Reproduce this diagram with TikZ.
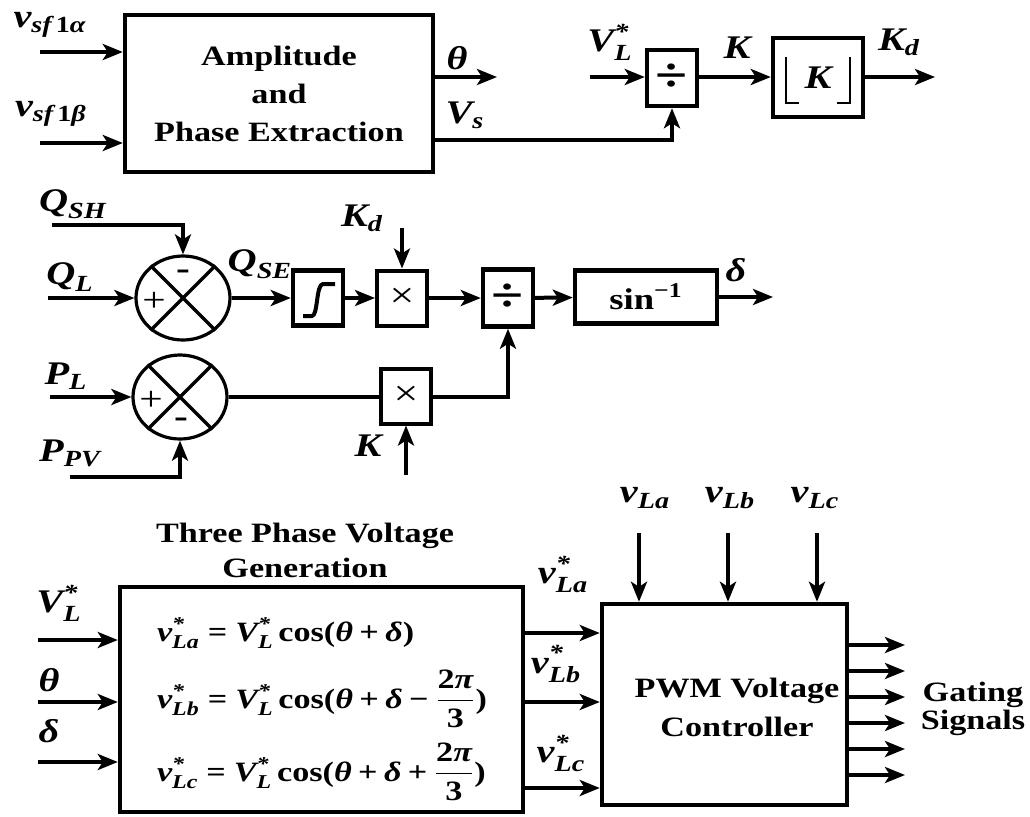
\documentclass[tikz,border=0pt]{standalone}
\usepackage{amsmath}
\usepackage{fontspec}
\setmainfont{Liberation Serif}[FakeStretch=1.22]
\usetikzlibrary{arrows.meta,calc,positioning,shapes.geometric}
\newcommand{\bi}[1]{\text{\bfseries\itshape #1}}
\newcommand{\bu}[1]{\text{\bfseries #1}}

\begin{document}
\begin{tikzpicture}[x=0.5pt,y=-0.5pt,every node/.style={font=\fontsize{14}{19}\selectfont\bfseries,text=black},lbl/.style={font=\fontsize{16.5}{18}\selectfont\bfseries,inner sep=1pt},blk/.style={draw,line width=2.2pt,inner sep=0pt},opbox/.style={draw,line width=2pt,inner sep=0pt,minimum width=25pt,minimum height=27.5pt},sumj/.style={draw,ellipse,line width=1.6pt,inner sep=0pt,minimum width=47pt,minimum height=42pt},arr/.style={-{Stealth[length=10pt,width=8pt,inset=2.5pt]},line width=2pt},wire/.style={line width=2pt},sgn/.style={font=\fontsize{17}{17}\selectfont\mdseries,inner sep=0pt}]
\fill[white] (0,0) rectangle (1030,816);
\useasboundingbox (0,0) rectangle (1030,816);

% amplitude and phase, gain K
\node[blk,minimum width=154pt,minimum height=78.5pt,align=center] (ape) at (279,93.5) {Amplitude\\and\\Phase Extraction};
\coordinate (ina) at (40,52); \coordinate (inb) at (40,143); \coordinate (tho) at (497,77); \coordinate (vlin) at (590,77); \coordinate (kdo) at (935,77);
\draw[arr] (ina) -- (ina -| ape.west); \draw[arr] (inb) -- (inb -| ape.west); \draw[arr] (tho -| ape.east) -- (tho);
\node[lbl] (lina) at (50,25) {$\bi{v}_{\bi{sf}\,\bu{1}\bi{α}}$}; \node[lbl] (linb) at (51,114) {$\bi{v}_{\bi{sf}\,\bu{1}\bi{β}}$};
\node[lbl] (lth) at (457,58) {$\bi{θ}$}; \node[lbl] (lvs) at (465,115) {$\bi{V}_{\bi{s}}$};
\node[opbox,line width=2.2pt,minimum height=28pt] (div1) at (672,78) {\fontsize{24}{24}\selectfont ÷};
\node[blk,minimum width=45pt,minimum height=39.5pt] (flr) at (818,77.5) {\fontsize{16.5}{18}\selectfont$\bi{K}$};
\draw[line width=1.2pt] (786,57) -- (786,103) -- (799,103); \draw[line width=1.2pt] (850,57) -- (850,103) -- (837,103);
\draw[arr] (vlin) -- (vlin -| div1.west); \draw[arr] (ape.east |- 0,140) -| (div1.south);
\draw[arr] (div1.east |- vlin) -- (flr.west |- vlin); \draw[arr] (flr.east |- kdo) -- (kdo);
\node[lbl] (lvl) at (610,42) {$\bi{V}^{\bi{*}}_{\bi{L}}$}; \node[lbl] (lk) at (737,48) {$\bi{K}$}; \node[lbl] (lkd) at (899,42) {$\bi{K}_{\bi{d}}$};

% reactive and active power path
\node[sumj] (sum1) at (183,298) {}; \node[sumj] (sum2) at (180,397) {};
\draw[line width=1.6pt] (sum1.135) -- (sum1.-45) (sum1.45) -- (sum1.-135); \draw[line width=1.6pt] (sum2.135) -- (sum2.-45) (sum2.45) -- (sum2.-135);
\node[sgn] at (154,302) {+}; \node[sgn,font=\fontsize{17}{17}\selectfont\bfseries] at (183,275) {-};
\node[sgn] at (151,401) {+}; \node[sgn,font=\fontsize{17}{17}\selectfont\bfseries] at (181,423) {-};
\coordinate (qsh) at (52,225); \coordinate (ql) at (48,298); \coordinate (pl) at (50,397); \coordinate (ppv) at (70,477);
\draw[arr] (qsh) -| (sum1.north); \draw[arr] (ql) -- (sum1.west); \draw[arr] (pl) -- (sum2.west); \draw[arr] (ppv) -| (sum2.south);
\node[lbl] (lqsh) at (73,204) {$\bi{Q}_{\bi{SH}}$}; \node[lbl] (lql) at (70,277) {$\bi{Q}_{\bi{L}}$}; \node[lbl] (lqse) at (260,264) {$\bi{Q}_{\bi{SE}}$};
\node[lbl] (lpl) at (66,376) {$\bi{P}_{\bi{L}}$}; \node[lbl] (lppv) at (70,453) {$\bi{P}_{\bi{PV}}$};
\node[opbox,line width=2.2pt] (sat) at (318,298) {};
\draw[line width=2pt,line join=round] (303,316) -- (312,316) .. controls (318,316) and (316,284) .. (323,284) -- (335,284);
\node[opbox] (mul1) at (402,298) {\fontsize{18}{18}\selectfont\mdseries ×}; \node[opbox] (mul2) at (406,396) {\fontsize{18}{18}\selectfont\mdseries ×};
\node[opbox,line width=2.2pt,minimum height=28.5pt] (div2) at (508,298) {\fontsize{24}{24}\selectfont ÷};
\node[blk,minimum width=71pt,minimum height=26.5pt] (sinv) at (646,297) {\fontsize{15}{18}\selectfont$\bu{sin}^{\bu{−1}}$};
\coordinate (kdin) at (402,228); \coordinate (kin) at (406,475); \coordinate (dlt) at (773,297);
\draw[arr] (sum1.east) -- (sat.west); \draw[arr] (sat) -- (mul1); \draw[arr] (mul1) -- (div2); \draw[arr] (div2) -- (sinv); \draw[arr] (sinv.east) -- (dlt);
\draw[arr] (kdin) -- (mul1.north); \draw[arr] (kin) -- (mul2.south);
\draw[wire] (sum2.east) -- (sum2.east -| mul2.west); \draw[arr] (mul2.east |- sum2.east) -| (div2.south);
\node[lbl] (lkd2) at (362,218) {$\bi{K}_{\bi{d}}$}; \node[lbl] (lk2) at (368,446) {$\bi{K}$}; \node[lbl] (ldl) at (736,270) {$\bi{δ}$};

% three phase voltage generation, PWM
\node[align=center,font=\fontsize{14}{17.5}\selectfont\bfseries] (tpgt) at (305,550) {Three Phase Voltage\\Generation};
\node[blk,minimum width=201.5pt,minimum height=112.5pt] (tpg) at (321.5,699.5) {};
\node[anchor=west] (eqa) at (150,633) {$\bi{v}^{\bi{*}}_{\bi{La}}\mathrel{\bu{=}}\bi{V}^{\bi{*}}_{\bi{L}}\,\bu{cos(}\bi{θ}\mathbin{\bu{+}}\bi{δ}\bu{)}$};
\node[anchor=west] (eqb) at (150,699) {$\bi{v}^{\bi{*}}_{\bi{Lb}}\mathrel{\bu{=}}\bi{V}^{\bi{*}}_{\bi{L}}\,\bu{cos(}\bi{θ}\mathbin{\bu{+}}\bi{δ}\mathbin{\bu{−}}\dfrac{\bu{2}\bi{π}}{\bu{3}}\bu{)}$};
\node[anchor=west] (eqc) at (150,772) {$\bi{v}^{\bi{*}}_{\bi{Lc}}\mathrel{\bu{=}}\bi{V}^{\bi{*}}_{\bi{L}}\,\bu{cos(}\bi{θ}\mathbin{\bu{+}}\bi{δ}\mathbin{\bu{+}}\dfrac{\bu{2}\bi{π}}{\bu{3}}\bu{)}$};
\coordinate (ivl) at (38,640); \coordinate (ith) at (38,702); \coordinate (idl) at (38,762);
\draw[arr] (ivl) -- (ivl -| tpg.west); \draw[arr] (ith) -- (ith -| tpg.west); \draw[arr] (idl) -- (idl -| tpg.west);
\node[lbl] (lvl2) at (59,603) {$\bi{V}^{\bi{*}}_{\bi{L}}$}; \node[lbl] (lth2) at (49,680) {$\bi{θ}$}; \node[lbl] (ldl2) at (49,731) {$\bi{δ}$};
\node[blk,minimum width=122.5pt,minimum height=100.5pt] (pwm) at (724.5,704.5) {};
\node[align=center,font=\fontsize{14}{19.5}\selectfont\bfseries] (pwmt) at (737,707) {PWM Voltage\\Controller};
\foreach \y in {633,702,788} \draw[arr] (tpg.east |- 0,\y) -- (pwm.west |- 0,\y);
\node[lbl] (lva) at (563,574) {$\bi{v}^{\bi{*}}_{\bi{La}}$}; \node[lbl] (lvb) at (556,664) {$\bi{v}^{\bi{*}}_{\bi{Lb}}$}; \node[lbl] (lvc) at (561,753) {$\bi{v}^{\bi{*}}_{\bi{Lc}}$};
\foreach \x/\s/\c in {639/a/645,728/b/730,817/c/815} {\draw[arr] (\x,533) -- (\x,533 |- pwm.north); \node[lbl] at (\c,498) {$\bi{v}_{\bi{L\s}}$};}
\foreach \y in {645,671,...,775} \draw[arr] (pwm.east |- 0,\y) -- (905,\y);
\node[align=center,font=\fontsize{14}{14}\selectfont\bfseries] (gate) at (973,709) {Gating\\Signals};

\end{tikzpicture}
\end{document}
